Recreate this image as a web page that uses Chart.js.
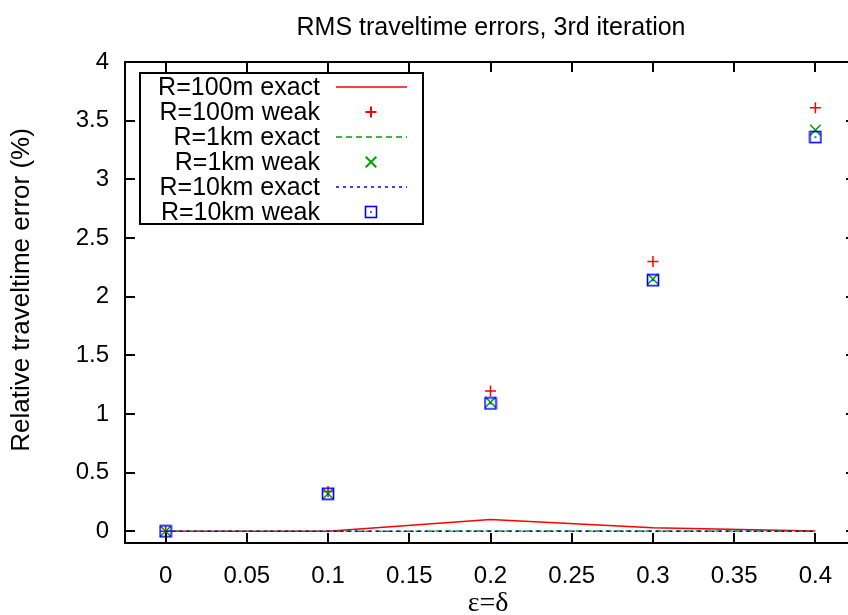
<!DOCTYPE html>
<html>
<head>
<meta charset="UTF-8">
<title>RMS traveltime errors</title>
<script src="https://cdn.jsdelivr.net/npm/chart.js"></script>
<style>
  body { margin: 0; overflow: hidden; background: #fff; }
  #wrap { width: 865px; height: 615px; }
</style>
</head>
<body>
<div id="wrap"><canvas id="myChart" width="865" height="615"></canvas></div>
<script>
// data
const epsDelta = [0, 0.1, 0.2, 0.3, 0.4];
const r100Exact = [0, 0, 0.1, 0.03, 0.003];
const r100Weak = [0, 0.34, 1.195, 2.30, 3.61];
const r1kExact = [0, 0, 0.002, 0.002, 0.001];
const r1kWeak = [0, 0.32, 1.10, 2.15, 3.42];
const r10kExact = [0, 0, 0, 0, 0];
const r10kWeak = [0, 0.32, 1.09, 2.14, 3.36];
const xTicks = [0, 0.05, 0.1, 0.15, 0.2, 0.25, 0.3, 0.35, 0.4];
const yTicks = [0, 0.5, 1, 1.5, 2, 2.5, 3, 3.5, 4];

const FONT = "'Liberation Sans', Arial, sans-serif";

function pts(ys) {
    return epsDelta.map((x, i) => ({ x: x, y: ys[i] }));
}

// square with a dot in the middle, like gnuplot point type 12
function boxDot() {
    const c = document.createElement('canvas');
    c.width = 14; c.height = 14;
    const g = c.getContext('2d');
    g.strokeStyle = '#0000ff';
    g.lineWidth = 1.6;
    g.strokeRect(1.5, 1.5, 11, 11);
    g.fillStyle = '#0000ff';
    g.fillRect(6.2, 6.2, 1.6, 1.6);
    return c;
}

const datasets = [
    { label: 'R=100m exact', data: pts(r100Exact), showLine: true, borderColor: '#ff0000', borderWidth: 1.5, pointRadius: 0 },
    { label: 'R=100m weak', data: pts(r100Weak), showLine: false, borderColor: '#ff0000', pointStyle: 'cross', pointRadius: 5.5, pointBorderWidth: 1.5 },
    { label: 'R=1km exact', data: pts(r1kExact), showLine: true, borderColor: '#00a000', borderWidth: 1.5, borderDash: [6, 4], pointRadius: 0 },
    { label: 'R=1km weak', data: pts(r1kWeak), showLine: false, borderColor: '#00a000', pointStyle: 'crossRot', pointRadius: 7.5, pointBorderWidth: 1.5 },
    { label: 'R=10km exact', data: pts(r10kExact), showLine: true, borderColor: '#0000ff', borderWidth: 1.5, borderDash: [3, 4], pointRadius: 0 },
    { label: 'R=10km weak', data: pts(r10kWeak), showLine: false, borderColor: '#0000ff', pointStyle: boxDot(), pointRadius: 6 }
];
// gnuplot draws later curves on top
datasets.forEach((d, i) => { d.order = -i; d.fill = false; d.pointHoverRadius = d.pointRadius; });

// frame, inward ticks, title, axis labels and legend box
const gnuplotLook = {
    id: 'gnuplotLook',
    afterDraw(chart) {
        const ctx = chart.ctx;
        const a = chart.chartArea;
        const xs = chart.scales.x, ys = chart.scales.y;
        ctx.save();
        ctx.strokeStyle = '#000';
        ctx.lineWidth = 2;
        ctx.beginPath();
        xTicks.forEach(v => {
            const px = Math.round(xs.getPixelForValue(v));
            ctx.moveTo(px, a.bottom); ctx.lineTo(px, a.bottom - 10);
            ctx.moveTo(px, a.top); ctx.lineTo(px, a.top + 10);
        });
        yTicks.forEach(v => {
            const py = Math.round(ys.getPixelForValue(v));
            ctx.moveTo(a.left, py); ctx.lineTo(a.left + 10, py);
            ctx.moveTo(a.right, py); ctx.lineTo(a.right - 10, py);
        });
        ctx.stroke();
        ctx.strokeRect(a.left, a.top, a.right - a.left, a.bottom - a.top);

        ctx.fillStyle = '#000';
        ctx.textAlign = 'center';
        ctx.textBaseline = 'middle';
        ctx.font = '25px ' + FONT;
        ctx.fillText('RMS traveltime errors, 3rd iteration', 491, 28);
        ctx.font = "28px 'Liberation Serif', serif";
        ctx.fillText('\u03b5=\u03b4', 488, 604);
        ctx.save();
        ctx.translate(22, 290);
        ctx.rotate(-Math.PI / 2);
        ctx.font = '26px ' + FONT;
        ctx.fillText('Relative traveltime error (%)', 0, 0);
        ctx.restore();

        // key
        const bx = 140, by = 73, bw = 283, bh = 151;
        ctx.fillStyle = '#fff';
        ctx.fillRect(bx, by, bw, bh);
        ctx.strokeStyle = '#000';
        ctx.lineWidth = 2;
        ctx.strokeRect(bx, by, bw, bh);
        ctx.font = '25px ' + FONT;
        ctx.textAlign = 'right';
        chart.data.datasets.forEach((d, i) => {
            const y = 87 + i * 25;
            ctx.fillStyle = '#000';
            ctx.fillText(d.label, 320, y + 1);
            if (d.showLine) {
                ctx.save();
                ctx.strokeStyle = d.borderColor;
                ctx.lineWidth = d.borderWidth;
                ctx.setLineDash(d.borderDash || []);
                ctx.beginPath();
                ctx.moveTo(336, y); ctx.lineTo(407, y);
                ctx.stroke();
                ctx.restore();
            } else {
                ctx.save();
                ctx.strokeStyle = d.borderColor;
                Chart.helpers.drawPoint(ctx, {
                    pointStyle: d.pointStyle, radius: d.pointRadius,
                    borderWidth: d.pointBorderWidth || 1.5, rotation: 0
                }, 371, y);
                ctx.restore();
            }
        });
        ctx.restore();
    }
};

new Chart(document.getElementById('myChart'), {
    type: 'scatter',
    data: { datasets: datasets },
    options: {
        responsive: false,
        animation: false,
        layout: { padding: { top: 62, left: 0, right: 5, bottom: 0 } },
        plugins: { legend: { display: false }, tooltip: { enabled: false } },
        scales: {
            x: {
                type: 'linear', min: -0.025, max: 0.425,
                afterBuildTicks: s => { s.ticks = xTicks.map(v => ({ value: v })); },
                afterFit: s => { s.height = 72; },
                grid: { display: false, drawTicks: false },
                border: { display: false },
                ticks: { autoSkip: false, maxRotation: 0, padding: 19, color: '#000',
                         font: { family: FONT, size: 24 }, callback: v => String(v) }
            },
            y: {
                type: 'linear', min: -0.1, max: 4,
                afterBuildTicks: s => { s.ticks = yTicks.map(v => ({ value: v })); },
                afterFit: s => { s.width = 125; },
                grid: { display: false, drawTicks: false },
                border: { display: false },
                ticks: { autoSkip: false, padding: 16, color: '#000',
                         font: { family: FONT, size: 24 }, callback: v => String(v) }
            }
        }
    },
    plugins: [gnuplotLook]
});
</script>
</body>
</html>
